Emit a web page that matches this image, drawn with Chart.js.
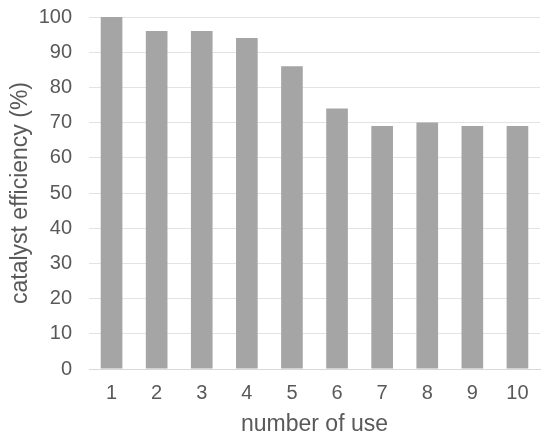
<!DOCTYPE html>
<html>
<head>
<meta charset="utf-8">
<script src="https://cdn.jsdelivr.net/npm/chart.js@4/dist/chart.umd.min.js"></script>
<style>
  html, body { margin: 0; padding: 0; background: #fff; }
  #wrap { width: 550px; height: 441px; }
</style>
</head>
<body>
<div id="wrap"><canvas id="chart"></canvas></div>
<script>
const uses = ['1', '2', '3', '4', '5', '6', '7', '8', '9', '10'];
const efficiency = [100, 96, 96, 94, 86, 74, 69, 70, 69, 69];
const yTicks = [0, 10, 20, 30, 40, 50, 60, 70, 80, 90, 100];

const textColor = '#595959';
const fontFamily = '"Liberation Sans", Arial, sans-serif';

const ctx = document.getElementById('chart').getContext('2d');
new Chart(ctx, {
    type: 'bar',
    data: {
        labels: uses,
        datasets: [{
            data: efficiency,
            backgroundColor: '#a5a5a5',
            borderWidth: 0,
            barPercentage: 0.48,
            categoryPercentage: 1
        }]
    },
    options: {
        responsive: true,
        maintainAspectRatio: false,
        animation: false,
        layout: { padding: { left: 7, right: 10, top: 5, bottom: 0 } },
        plugins: {
            legend: { display: false },
            tooltip: { enabled: false }
        },
        scales: {
            x: {
                grid: { display: false, drawTicks: false },
                border: { color: '#d9d9d9', width: 1 },
                ticks: { color: textColor, font: { family: fontFamily, size: 20 }, padding: 12 },
                afterFit: axis => { axis.height = 72; },
                title: {
                    display: true,
                    text: 'number of use',
                    color: textColor,
                    font: { family: fontFamily, size: 23 },
                    padding: { top: 0, bottom: 3 }
                }
            },
            y: {
                min: 0,
                max: 100,
                afterBuildTicks: axis => { axis.ticks = yTicks.map(v => ({ value: v })); },
                afterFit: axis => { axis.width = 82; axis.paddingTop = 17; },
                grid: { color: '#e3e3e3', lineWidth: 1, drawTicks: false },
                border: { display: false },
                ticks: { color: textColor, font: { family: fontFamily, size: 20 }, padding: 17 },
                title: {
                    display: true,
                    text: 'catalyst efficiency (%)',
                    color: textColor,
                    font: { family: fontFamily, size: 23 },
                    padding: { top: 0, bottom: 4 }
                }
            }
        }
    }
});
</script>
</body>
</html>
